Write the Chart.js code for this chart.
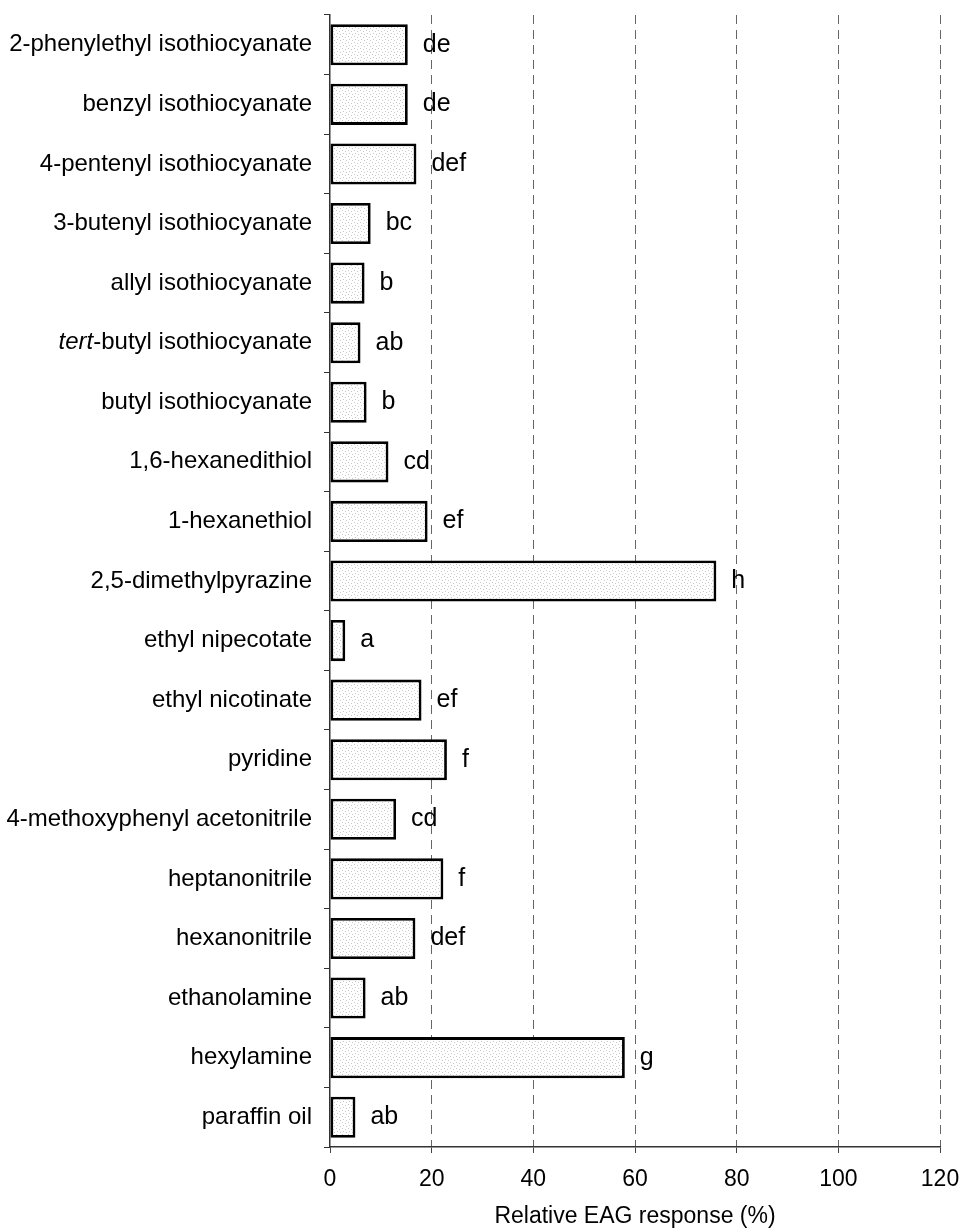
<!DOCTYPE html>
<html>
<head>
<meta charset="utf-8">
<script src="https://cdn.jsdelivr.net/npm/chart.js@4.4.1/dist/chart.umd.min.js"></script>
<style>
  html, body { margin: 0; padding: 0; background: #fff; }
  #wrap { width: 962px; height: 1230px; }
</style>
</head>
<body>
<div id="wrap"><canvas id="eagChart" width="962" height="1230"></canvas></div>
<script>
const compounds = [
  '2-phenylethyl isothiocyanate', 'benzyl isothiocyanate', '4-pentenyl isothiocyanate',
  '3-butenyl isothiocyanate', 'allyl isothiocyanate', 'tert-butyl isothiocyanate',
  'butyl isothiocyanate', '1,6-hexanedithiol', '1-hexanethiol', '2,5-dimethylpyrazine',
  'ethyl nipecotate', 'ethyl nicotinate', 'pyridine', '4-methoxyphenyl acetonitrile',
  'heptanonitrile', 'hexanonitrile', 'ethanolamine', 'hexylamine', 'paraffin oil'
];
const eagResponse = [15.3, 15.3, 17, 8, 6.8, 6, 7.2, 11.5, 19.2, 76, 3, 18, 23, 13, 22.3, 16.8, 7, 58, 5];
const sigLetters = ['de', 'de', 'def', 'bc', 'b', 'ab', 'b', 'cd', 'ef', 'h', 'a', 'ef', 'f', 'cd', 'f', 'def', 'ab', 'g', 'ab'];
const xTicks = [0, 20, 40, 60, 80, 100, 120];

const FONT = "'Liberation Sans', Arial, sans-serif";

function stipplePattern(ctx) {
  const c = document.createElement('canvas');
  c.width = 6; c.height = 6;
  const g = c.getContext('2d');
  g.fillStyle = '#fff';
  g.fillRect(0, 0, 6, 6);
  g.fillStyle = '#c8c8c8';
  [[0,0],[3,1],[1,3],[4,4]].forEach(([x, y]) => g.fillRect(x, y, 1, 1));
  return ctx.createPattern(c, 'repeat');
}

// category names drawn by hand so "tert" can be italic
const yNames = {
  id: 'yNames',
  afterDraw(chart) {
    const { ctx, scales: { y } } = chart;
    ctx.save();
    ctx.fillStyle = '#000';
    ctx.textBaseline = 'middle';
    ctx.textAlign = 'right';
    compounds.forEach((name, i) => {
      const py = y.getPixelForValue(i);
      const right = 312;
      ctx.font = `24px ${FONT}`;
      if (name.startsWith('tert-')) {
        const rest = name.slice(4);
        const w = ctx.measureText(rest).width;
        ctx.fillText(rest, right, py);
        ctx.font = `italic 24px ${FONT}`;
        ctx.fillText('tert', right - w, py);
      } else {
        ctx.fillText(name, right, py);
      }
    });
    ctx.restore();
  }
};

const letterTags = {
  id: 'letterTags',
  afterDatasetsDraw(chart) {
    const { ctx } = chart;
    const bars = chart.getDatasetMeta(0).data;
    ctx.save();
    ctx.fillStyle = '#000';
    ctx.font = `25px ${FONT}`;
    ctx.textAlign = 'left';
    ctx.textBaseline = 'middle';
    bars.forEach((bar, i) => {
      ctx.fillText(sigLetters[i], bar.x + 15, bar.y);
    });
    ctx.restore();
  }
};

const canvas = document.getElementById('eagChart');
const pat = stipplePattern(canvas.getContext('2d'));

new Chart(canvas, {
  type: 'bar',
  data: {
    labels: compounds,
    datasets: [{
      data: eagResponse,
      backgroundColor: pat,
      borderColor: '#000',
      borderWidth: 2.8,
      borderSkipped: false,
      barPercentage: 0.69,
      categoryPercentage: 1
    }]
  },
  options: {
    indexAxis: 'y',
    responsive: false,
    animation: false,
    devicePixelRatio: 1,
    layout: { padding: { top: 15, right: 22, left: 0, bottom: 0 } },
    plugins: { legend: { display: false }, tooltip: { enabled: false } },
    scales: {
      x: {
        min: 0, max: 120,
        afterBuildTicks: s => { s.ticks = xTicks.map(v => ({ value: v })); },
        afterFit: s => { s.height = 83; s.paddingRight = 0; s.paddingLeft = 0; },
        grid: {
          color: c => c.tick && c.tick.value === 0 ? 'rgba(0,0,0,0)' : '#666',
          lineWidth: 1,
          drawTicks: true,
          tickLength: 6,
          tickColor: '#444'
        },
        border: { display: true, color: '#333', width: 1.5, dash: [9, 6] },
        ticks: { color: '#000', padding: 13, font: { family: FONT, size: 23 } },
        title: {
          display: true,
          text: 'Relative EAG response (%)',
          color: '#000',
          padding: { top: 0, bottom: 0 },
          font: { family: FONT, size: 23 }
        }
      },
      y: {
        afterFit: s => { s.width = 330; },
        grid: {
          offset: true,
          drawOnChartArea: false,
          drawTicks: true,
          tickLength: 6,
          tickColor: '#333',
          lineWidth: 1
        },
        border: { display: true, color: '#333', width: 1.5 },
        ticks: { display: false }
      }
    }
  },
  plugins: [letterTags, yNames]
});
</script>
</body>
</html>
